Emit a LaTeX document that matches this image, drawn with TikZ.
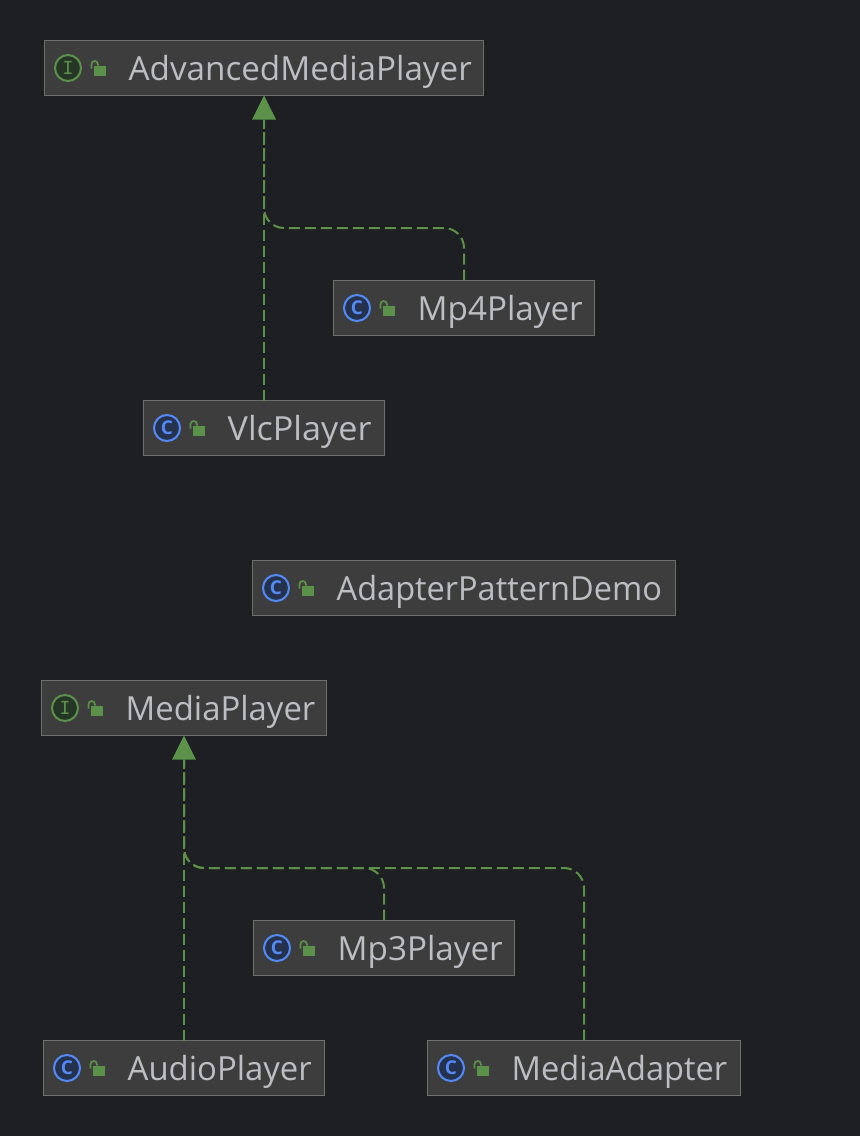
\documentclass[tikz,border=0pt]{standalone}
\usepackage{fontspec}
\usepackage{graphicx}
\setmainfont{Open Sans}
\newfontfamily\markfont{DejaVu Sans Mono}
\usetikzlibrary{arrows.meta,calc}
\definecolor{bgc}{HTML}{1E1F22}
\definecolor{boxfill}{HTML}{3D3D3D}
\definecolor{boxline}{HTML}{6E6E6E}
\definecolor{grn}{HTML}{5B9148}
\definecolor{intfill}{HTML}{253627}
\definecolor{clsline}{HTML}{548AF7}
\definecolor{clsfill}{HTML}{25324D}
\definecolor{txt}{HTML}{BCBEC4}
\tikzset{
  x=1pt,y=-1pt,
  umlbox/.style={draw=boxline,fill=boxfill,line width=1pt,minimum height=55pt,inner sep=0pt,outer sep=0pt},
  umllabel/.style={text=txt,anchor=base west,inner sep=0pt,font=\fontsize{33.2}{38}\selectfont},
  realize/.style={draw=grn,line width=2pt,dash pattern=on 11pt off 5pt,rounded corners=20pt},
  tip/.style={fill=grn,draw=none},
  ifacemark/.style={circle,draw=grn,fill=intfill,line width=2pt,minimum size=26pt,inner sep=0pt,text=grn,font=\markfont\fontsize{18}{18}\selectfont},
  classmark/.style={circle,draw=clsline,fill=clsfill,line width=2pt,minimum size=26pt,inner sep=0pt,text=clsline,font=\bfseries\fontsize{19}{19}\selectfont},
}
% name, left, top, width, mark style, mark letter, text, horizontal text fit
\newcommand{\umlnode}[8]{%
  \node[umlbox,anchor=north west,minimum width=#4pt] (#1) at (#2,#3) {};
  \node[#5] (#1mark) at ($(#2,#3)+(23.5,27.5)$) {#6};
  \fill[grn] ($(#2,#3)+(49,25)$) rectangle ($(#2,#3)+(61.5,35)$);
  \draw[grn,line width=1.7pt] ($(#2,#3)+(47,28)$) -- ++(0,-4.3) arc[start angle=180,end angle=0,radius=3.2pt] -- ++(0,1.3);
  \node[umllabel] (#1label) at ($(#2,#3)+(84,39.5)$) {\scalebox{#8}[1]{#7}};
}
\begin{document}
\begin{tikzpicture}
\useasboundingbox (0,0) rectangle (860,1136);
\fill[bgc] (0,0) rectangle (860,1136);

\umlnode{adv}{44.5}{40.5}{439}{ifacemark}{I}{AdvancedMediaPlayer}{1}
\umlnode{mp4}{333.5}{280.5}{261}{classmark}{C}{Mp4Player}{1}
\umlnode{vlc}{143.5}{400.5}{241}{classmark}{C}{VlcPlayer}{1.029}
\umlnode{demo}{252.5}{560.5}{423}{classmark}{C}{AdapterPatternDemo}{0.979}
\umlnode{mp}{41.5}{680.5}{285}{ifacemark}{I}{MediaPlayer}{0.99}
\umlnode{mp3}{253.5}{920.5}{261}{classmark}{C}{Mp3Player}{1}
\umlnode{audio}{43.5}{1040.5}{281}{classmark}{C}{AudioPlayer}{0.99}
\umlnode{adapter}{427.5}{1040.5}{313}{classmark}{C}{MediaAdapter}{0.98}

\coordinate (advbend) at ($(adv.south)+(0,132.5)$);
\coordinate (advtip) at ($(adv.south)+(0,24)$);
\coordinate (mpbend) at ($(mp.south)+(0,132.5)$);
\coordinate (mptip) at ($(mp.south)+(0,24)$);

% dashed connectors
\draw[realize] (vlc.north) -- (advtip);
\draw[realize] (mp4.north) -- (mp4.north |- advbend) -- (advbend) -- (advtip);
\draw[realize] (audio.north) -- (mptip);
\draw[realize] (mp3.north) -- (mp3.north |- mpbend) -- (mpbend) -- (mptip);
\draw[realize] (adapter.north) -- (adapter.north |- mpbend) -- (mpbend) -- (mptip);
% arrowheads
\fill[tip] (adv.south) -- ++(-12,24) -- ++(24,0) -- cycle;
\fill[tip] (mp.south) -- ++(-12,24) -- ++(24,0) -- cycle;
\end{tikzpicture}
\end{document}
